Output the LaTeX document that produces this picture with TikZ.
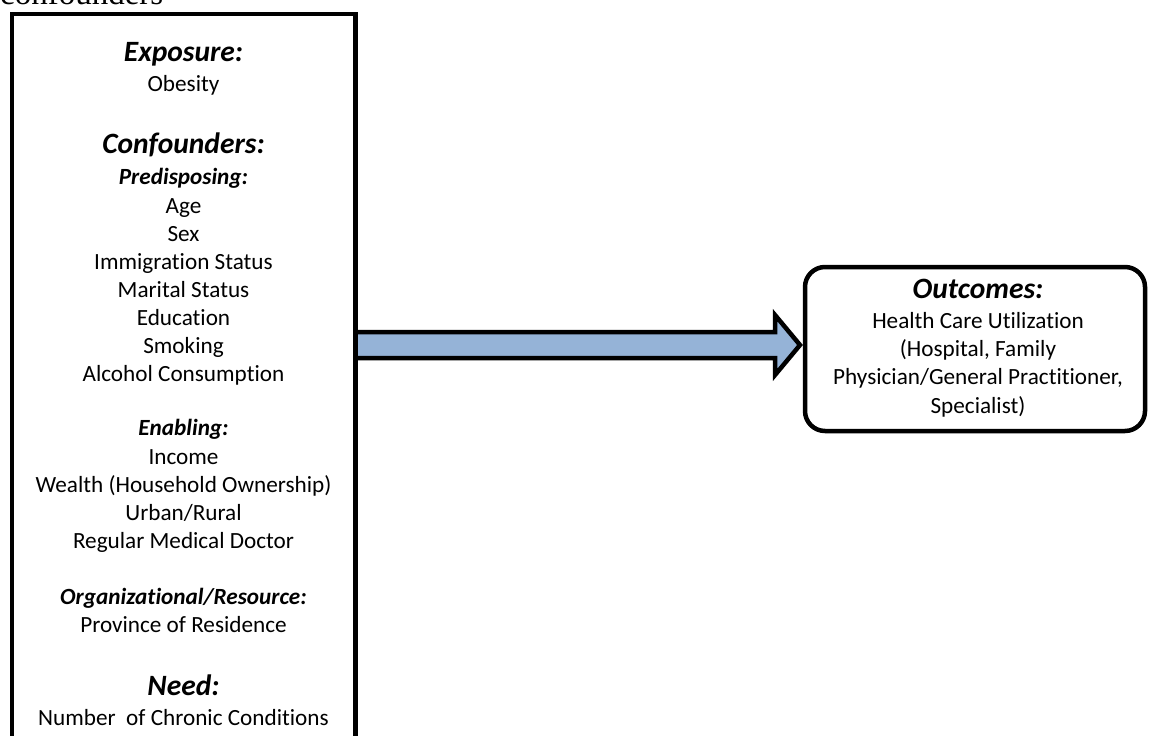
\documentclass[tikz,border=0pt]{standalone}
\usepackage{fontspec}
\setmainfont{Carlito}[Ligatures={NoCommon,NoContextual}]
\newfontfamily\timesfont{Liberation Serif}
\usetikzlibrary{calc}
\definecolor{arrowblue}{HTML}{95B3D7}
\tikzset{
 body/.style={anchor=base, inner sep=0pt, font=\fontsize{23.2}{28}\selectfont},
 head/.style={anchor=base, inner sep=0pt, font=\fontsize{29.5}{35}\selectfont\bfseries\itshape},
 sub/.style={anchor=base, inner sep=0pt, font=\fontsize{23.2}{28}\selectfont\bfseries\itshape},
 boxline/.style={draw=black, line width=4.5pt, outer sep=0pt, inner sep=0pt},
 bigarrow/.style={draw=black, line width=4.5pt, fill=arrowblue, line join=miter},
}
\begin{document}
\begin{tikzpicture}[x=1pt,y=-1pt]
\useasboundingbox (0,0) rectangle (1151,736);
\node[anchor=base west, inner sep=0pt, font=\timesfont\fontsize{33}{40}\selectfont] (cap) at (0,5) {confounders};
% left box
\node[boxline, rectangle, minimum width=343.5pt, minimum height=760pt, anchor=north west] (left) at (12,14) {};
% right box
\node[boxline, rectangle, rounded corners=20pt, minimum width=340pt, minimum height=164pt, anchor=north west] (out) at (805,267) {};
% arrow
\coordinate (tip) at ($(out.west |- 0,345)+(-5,0)$);
\draw[bigarrow] (left.east |- 0,332) -- ($(tip)+(-25,-13)$) -- ($(tip)+(-25,-30)$) -- (tip)
  -- ($(tip)+(-25,30)$) -- ($(tip)+(-25,13)$) -- (left.east |- 0,358) -- cycle;
% left texts
\def\cx{183.5}
\node[head] (h1) at (\cx,61) {Exposure:};
\node[body] (t1) at (\cx,91) {Obesity};
\node[head] (h2) at (\cx,153) {Confounders:};
\node[sub] (s1) at (\cx,184) {Predisposing:};
\node[body] (p1) at (\cx,213) {Age};
\node[body] (p2) at (\cx,241) {Sex};
\node[body] (p3) at (\cx,269) {Immigration Status};
\node[body] (p4) at (\cx,297) {Marital Status};
\node[body] (p5) at (\cx,325) {Education};
\node[body] (p6) at (\cx,353) {Smoking};
\node[body] (p7) at (\cx,381) {Alcohol Consumption};
\node[sub] (s2) at (\cx,435) {Enabling:};
\node[body] (e1) at (\cx,464) {Income};
\node[body] (e2) at (\cx,492) {Wealth (Household Ownership)};
\node[body] (e3) at (\cx,520) {Urban/Rural};
\node[body] (e4) at (\cx,548) {Regular Medical Doctor};
\node[sub] (s3) at (\cx,604) {Organizational/Resource:};
\node[body] (o1) at (\cx,632) {Province of Residence};
\node[head] (h3) at (\cx,695) {Need:};
\node[body] (n1) at (\cx,725) {Number\ \ of Chronic Conditions};
% right texts
\def\rx{978}
\node[head] (h4) at (\rx,298) {Outcomes:};
\node[body] (r1) at (\rx,328) {Health Care Utilization};
\node[body] (r2) at (\rx,356) {(Hospital, Family};
\node[body] (r3) at (\rx,384) {Physician/General Practitioner,};
\node[body] (r4) at (\rx,413) {Specialist)};
\end{tikzpicture}
\end{document}
